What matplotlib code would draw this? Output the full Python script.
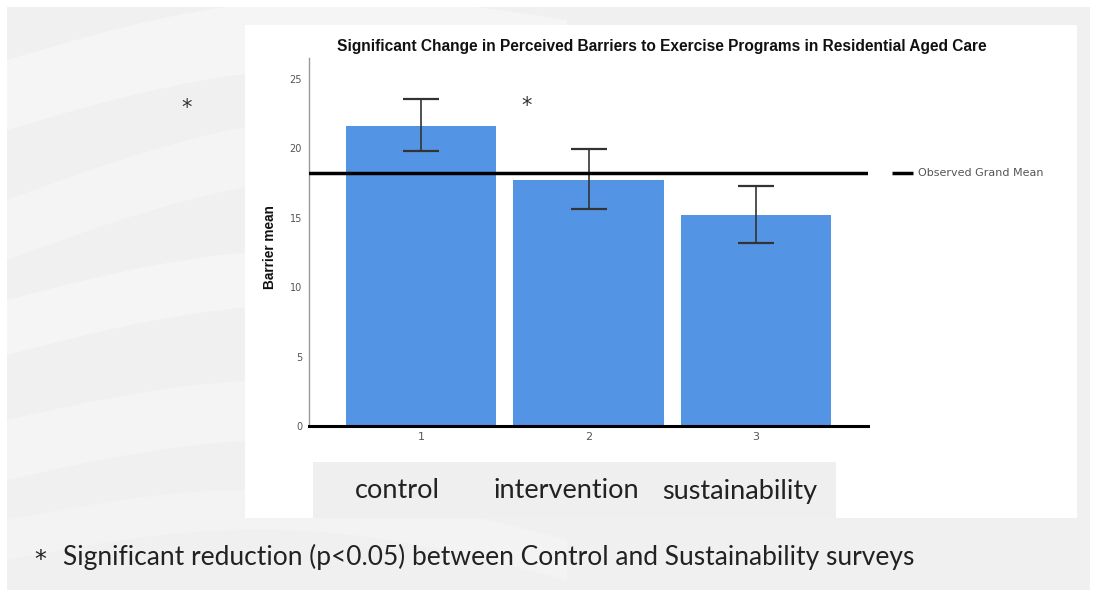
import matplotlib
matplotlib.use("Agg")
import matplotlib.pyplot as plt
from matplotlib.patches import Rectangle, Polygon
import numpy as np

# data
groups = [1, 2, 3]
group_names = ["control", "intervention", "sustainability"]
bar_means = [21.6, 17.75, 15.2]
ci_low = [19.8, 15.65, 13.15]
ci_high = [23.55, 19.95, 17.25]
grand_mean = 18.25
y_ticks = [0, 5, 10, 15, 20, 25]

TITLE = "Significant Change in Perceived Barriers to Exercise Programs in Residential Aged Care"
FOOTNOTE = "Significant reduction (p<0.05) between Control and Sustainability surveys"
BAR_COLOR = "#5494e4"

W, H = 1093, 590
fig = plt.figure(figsize=(W / 100, H / 100), dpi=100)
fig.patch.set_facecolor("white")

# slide background in pixel coordinates
bg = fig.add_axes([0, 0, 1, 1])
bg.set_xlim(0, W)
bg.set_ylim(H, 0)
bg.axis("off")
bg.add_patch(Rectangle((7, 7), 1083, 583, fc="#f0f0f0", ec="none"))

# faint white curved bands on the left, like the slide template
t = np.linspace(0, 1, 60)
for y0, y1, thick, a in [(60, 20, 70, 0.35), (200, 120, 60, 0.3),
                         (300, 280, 55, 0.35), (420, 420, 60, 0.3),
                         (520, 540, 40, 0.25)]:
    xs = 7 + t * 560
    ys = y0 + (y1 - y0) * t - 40 * np.sin(np.pi * t)
    poly = np.column_stack([np.r_[xs, xs[::-1]], np.r_[ys, (ys + thick)[::-1]]])
    bg.add_patch(Polygon(poly, closed=True, fc="white", ec="none", alpha=a))

# white chart panel and grey category strip
bg.add_patch(Rectangle((245, 25), 832, 493, fc="white", ec="none"))
bg.add_patch(Rectangle((313, 462), 523, 56, fc="#efefef", ec="none"))

bg.text(662, 47, TITLE, ha="center", va="center", fontsize=11.2,
        fontweight="bold", family="Liberation Sans", color="#111111")
bg.text(270, 247, "Barrier mean", ha="center", va="center", rotation=90,
        fontsize=9.8, fontweight="bold", family="Liberation Sans", color="#111111")

# legend
bg.plot([892, 913], [173, 173], color="black", lw=2.5, solid_capstyle="butt")
bg.text(918, 173, "Observed Grand Mean", ha="left", va="center", fontsize=8,
        family="Liberation Sans Narrow", color="#555555")

# category names in the grey strip
for xc, name in zip([397, 566, 740], group_names):
    bg.text(xc, 491, name, ha="center", va="center", fontsize=19.5,
            family="Lato", color="#222222")

# asterisks and footnote
bg.text(187, 108, "*", ha="center", va="center", fontsize=15, color="#333333")
bg.text(527, 106, "*", ha="center", va="center", fontsize=15, color="#333333")
bg.text(40, 560, "*", ha="center", va="center", fontsize=17, color="#222222")
bg.text(63, 557, FOOTNOTE, ha="left", va="center", fontsize=19,
        family="Lato", color="#222222")

# chart axes
ax = fig.add_axes([309 / W, 1 - 426 / H, (868 - 309) / W, (426 - 58) / H])
ax.set_facecolor("none")
means = np.array(bar_means)
yerr = [means - np.array(ci_low), np.array(ci_high) - means]
ax.bar(groups, means, width=0.9, color=BAR_COLOR, zorder=2)
ax.errorbar(groups, means, yerr=yerr, fmt="none", ecolor="#333333",
            elinewidth=1.2, capsize=13, capthick=1.6, zorder=3)
ax.axhline(grand_mean, color="black", lw=2.5, zorder=4)

ax.set_xlim(0.33, 3.67)
ax.set_ylim(0, 26.5)
ax.set_xticks(groups)
ax.set_xticklabels([str(g) for g in groups])
ax.set_yticks(y_ticks)
ax.tick_params(axis="both", length=0, labelsize=7, labelcolor="#555555")
ax.tick_params(axis="y", pad=5)
ax.tick_params(axis="x", pad=4, labelsize=8)
ax.spines[["top", "right"]].set_visible(False)
ax.spines["left"].set_color("#999999")
ax.spines["left"].set_linewidth(1)
ax.spines["bottom"].set_color("black")
ax.spines["bottom"].set_linewidth(2.2)
ax.spines["bottom"].set_zorder(5)

fig.savefig("out.png", dpi=100)
